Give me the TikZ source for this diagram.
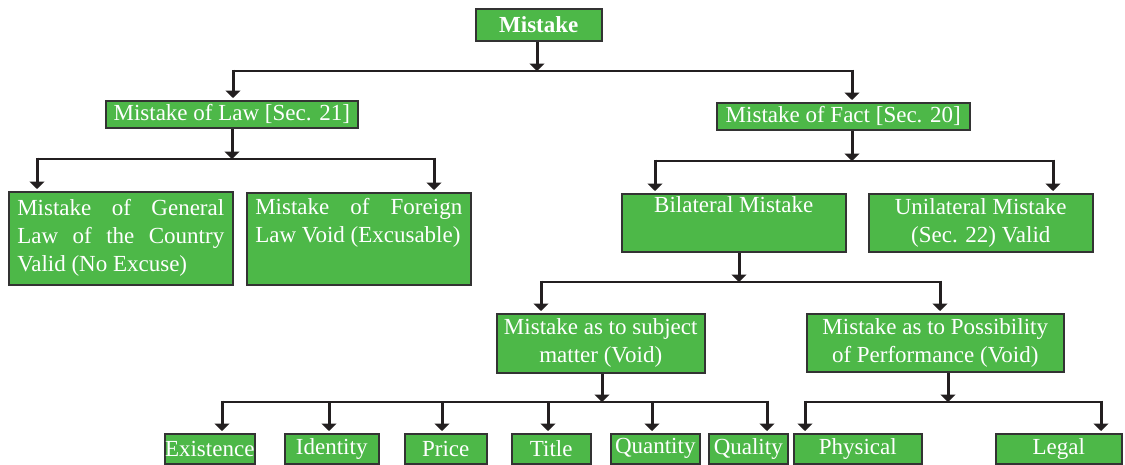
\documentclass[tikz,border=0pt]{standalone}
\usepackage{fontspec}
\setmainfont{Liberation Serif}
\usetikzlibrary{arrows.meta}
\definecolor{boxgreen}{RGB}{77,184,72}
\definecolor{boxline}{RGB}{51,51,51}
\definecolor{arrowc}{RGB}{35,31,32}
\begin{document}
\begin{tikzpicture}[x=1pt,y=-1pt,
  box/.style={draw=boxline,line width=1.5pt,fill=boxgreen,text=white,
    font=\fontsize{23}{28}\selectfont,inner sep=0pt,anchor=north west,align=center},
  jbox/.style={box,align=justify,inner xsep=8.5pt,inner ysep=0pt},
  arr/.style={draw=arrowc,line width=3pt,-{Triangle[width=15pt,length=7.5pt]}},
  bar/.style={draw=arrowc,line width=2pt}]
\useasboundingbox (0,0) rectangle (1125,464);

% nodes
\node[box,minimum width=126pt,minimum height=32pt] (mistake) at (475,8) {\textbf{Mistake}};
\node[box,minimum width=252pt,minimum height=27pt] (law) at (105,100) {Mistake of Law [Sec. 21]};
\node[box,minimum width=253pt,minimum height=27pt] (fact) at (716,102) {Mistake of Fact [Sec. 20]};
\node[jbox,text width=207pt,minimum height=93pt] (general) at (8,191)
  {Mistake of General\linebreak Law of the Country\linebreak Valid (No Excuse)};
\node[jbox,text width=207pt,minimum height=92pt] (foreign) at (246,192)
  {Mistake of Foreign\linebreak Law Void (Excusable)\par\strut};
\node[box,minimum width=224pt,minimum height=58pt] (bilateral) at (621,193) {Bilateral Mistake\\\strut};
\node[box,minimum width=224pt,minimum height=58pt] (unilateral) at (868,193) {Unilateral Mistake\\(Sec. 22) Valid};
\node[box,minimum width=208pt,minimum height=59pt] (subject) at (496,313) {Mistake as to subject\\matter (Void)};
\node[box,minimum width=257pt,minimum height=58pt] (possibility) at (806,313) {Mistake as to Possibility\\of Performance (Void)};
\node[box,minimum width=90pt,minimum height=30pt] (existence) at (164,433) {Existence};
\node[box,minimum width=94pt,minimum height=30pt] (identity) at (284,433) {Identity};
\node[box,minimum width=82pt,minimum height=30pt] (price) at (404,433) {Price};
\node[box,minimum width=79pt,minimum height=30pt] (title) at (511,433) {Title};
\node[box,minimum width=89pt,minimum height=30pt] (quantity) at (610,433) {Quantity};
\node[box,minimum width=79pt,minimum height=30pt] (quality) at (708,433) {Quality};
\node[box,minimum width=128pt,minimum height=30pt] (physical) at (793,433) {Physical};
\node[box,minimum width=126pt,minimum height=30pt] (legal) at (995,433) {Legal};

% level 1
\coordinate (b1l) at (233,71); \coordinate (b1r) at (852,71); \coordinate (b1j) at (537,71);
\draw[bar] (b1l) -- (b1r);
\draw[arr] (b1j |- mistake.south) -- (b1j);
\draw[arr] ([yshift=1.5pt]b1l) -- ([yshift=2pt]b1l |- law.north);
\draw[arr] ([yshift=1.5pt]b1r) -- ([yshift=2pt]b1r |- fact.north);

% law branch
\coordinate (b2l) at (37,159); \coordinate (b2r) at (434,159); \coordinate (b2j) at (232,159);
\draw[bar] (b2l) -- (b2r);
\draw[arr] (b2j |- law.south) -- (b2j);
\draw[arr] ([yshift=1.5pt]b2l) -- ([yshift=2pt]b2l |- general.north);
\draw[arr] ([yshift=1.5pt]b2r) -- ([yshift=2pt]b2r |- foreign.north);

% fact branch
\coordinate (b3l) at (655,161); \coordinate (b3r) at (1053,161); \coordinate (b3j) at (852,161);
\draw[bar] (b3l) -- (b3r);
\draw[arr] (b3j |- fact.south) -- (b3j);
\draw[arr] ([yshift=1.5pt]b3l) -- ([yshift=2pt]b3l |- bilateral.north);
\draw[arr] ([yshift=1.5pt]b3r) -- ([yshift=2pt]b3r |- unilateral.north);

% bilateral branch
\coordinate (b4l) at (541,282); \coordinate (b4r) at (940,282); \coordinate (b4j) at (739,282);
\draw[bar] (b4l) -- (b4r);
\draw[arr] (b4j |- bilateral.south) -- (b4j);
\draw[arr] ([yshift=1.5pt]b4l) -- ([yshift=2pt]b4l |- subject.north);
\draw[arr] ([yshift=1.5pt]b4r) -- ([yshift=2pt]b4r |- possibility.north);

% subject matter branch
\coordinate (b5a) at (222,402); \coordinate (b5b) at (329,402); \coordinate (b5c) at (442,402);
\coordinate (b5d) at (548,402); \coordinate (b5e) at (652,402); \coordinate (b5f) at (767,402);
\coordinate (b5j) at (602,402);
\draw[bar] (b5a) -- (b5f);
\draw[arr] (b5j |- subject.south) -- (b5j);
\draw[arr] ([yshift=1.5pt]b5a) -- ([yshift=2pt]b5a |- existence.north);
\draw[arr] (b5b) -- ([yshift=2pt]b5b |- identity.north);
\draw[arr] (b5c) -- ([yshift=2pt]b5c |- price.north);
\draw[arr] (b5d) -- ([yshift=2pt]b5d |- title.north);
\draw[arr] (b5e) -- ([yshift=2pt]b5e |- quantity.north);
\draw[arr] ([yshift=1.5pt]b5f) -- ([yshift=2pt]b5f |- quality.north);

% possibility branch
\coordinate (b6l) at (805,402); \coordinate (b6r) at (1101,402); \coordinate (b6j) at (948,402);
\draw[bar] (b6l) -- (b6r);
\draw[arr] (b6j |- possibility.south) -- (b6j);
\draw[arr] ([yshift=1.5pt]b6l) -- ([yshift=2pt]b6l |- physical.north);
\draw[arr] ([yshift=1.5pt]b6r) -- ([yshift=2pt]b6r |- legal.north);
\end{tikzpicture}
\end{document}
